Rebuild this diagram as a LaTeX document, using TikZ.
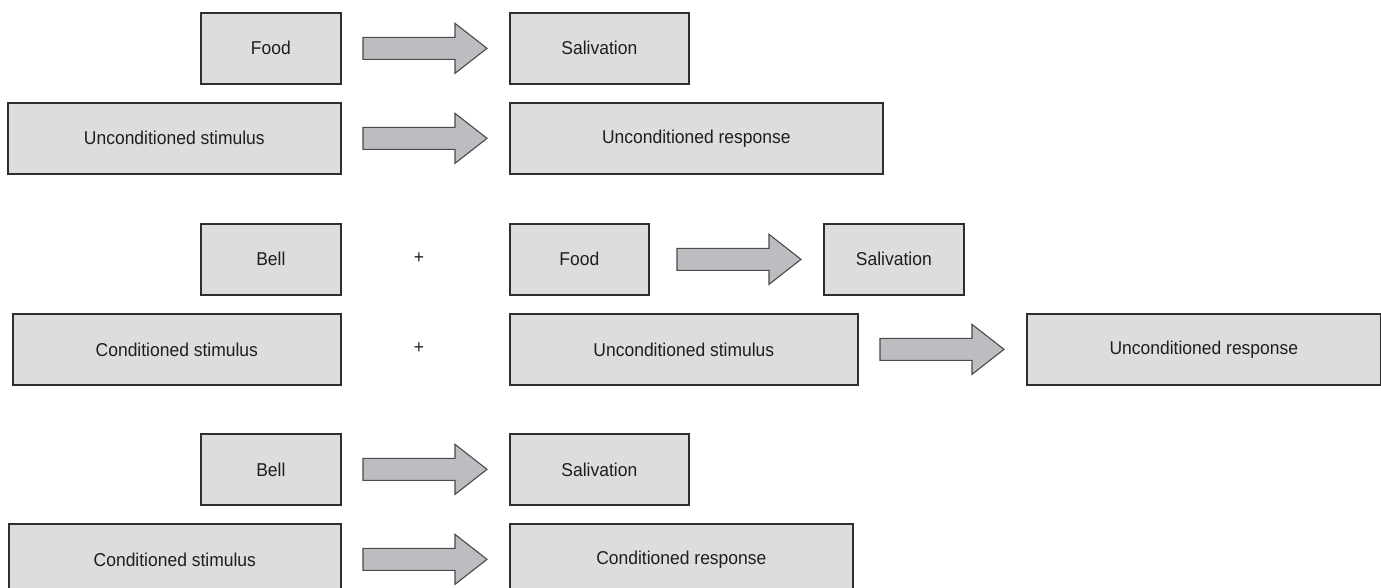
\documentclass[tikz,border=0pt]{standalone}
\usepackage{fontspec}
\setmainfont{Liberation Sans}
\newfontfamily\labelfont[FakeStretch=0.94]{Liberation Sans}
\usetikzlibrary{calc}

\definecolor{boxfill}{HTML}{DCDDDF}
\definecolor{boxline}{HTML}{2E2E2E}
\definecolor{arrowfill}{HTML}{BCBDC0}
\definecolor{arrowline}{HTML}{4A4A4A}
\definecolor{inktext}{HTML}{1E1E1E}

\tikzset{
  box/.style={draw=boxline, fill=boxfill, line width=1.7pt, anchor=north west,
    minimum height=71pt, inner sep=0pt, text=inktext,
    font=\labelfont\fontsize{18.6pt}{21pt}\selectfont},
  fatarrow/.style={draw=arrowline, fill=arrowfill, line width=1.1pt, line join=miter},
  plussign/.style={text=inktext, font=\labelfont\fontsize{18.6pt}{21pt}\selectfont, inner sep=0pt}
}

% broad arrow ending 22 units before the west side of the target box
\newcommand\broadarrow[1]{%
  \draw[fatarrow] ($(#1.west)+(-146,-11)$) -- ++(92,0) -- ++(0,-14) -- ++(32,25)
    -- ++(-32,25) -- ++(0,-14) -- ++(-92,0) -- cycle;}

\begin{document}
\begin{tikzpicture}[x=1pt, y=-1pt]
  \useasboundingbox (0,0) rectangle (1381,588);
  \clip (0,0) rectangle (1381,588);

  % unconditioned reflex
  \node[box, minimum width=140pt] (food1) at (200,12) {Food};
  \node[box, minimum width=179pt] (sal1) at (509,12) {Salivation};
  \node[box, minimum width=333pt] (ucs1) at (7,102) {Unconditioned stimulus};
  \node[box, minimum width=373pt] (ucr1) at (509,102) {Unconditioned response};
  \broadarrow{sal1}
  \broadarrow{ucr1}

  % pairing
  \node[box, minimum width=140pt] (bell1) at (200,223) {Bell};
  \node[plussign] (plus1) at (419,258) {+};
  \node[box, minimum width=139pt] (food2) at (509,223) {Food};
  \node[box, minimum width=140pt] (sal2) at (823,223) {Salivation};
  \node[box, minimum width=328pt] (cs1) at (12,313) {Conditioned stimulus};
  \node[plussign] (plus2) at (419,348) {+};
  \node[box, minimum width=348pt] (ucs2) at (509,313) {Unconditioned stimulus};
  \node[box, minimum width=354pt] (ucr2) at (1026,313) {Unconditioned response};
  \broadarrow{sal2}
  \broadarrow{ucr2}

  % conditioned reflex
  \node[box, minimum width=140pt] (bell2) at (200,433) {Bell};
  \node[box, minimum width=179pt] (sal3) at (509,433) {Salivation};
  \node[box, minimum width=332pt] (cs2) at (8,523) {Conditioned stimulus};
  \node[box, minimum width=343pt] (cr) at (509,523) {Conditioned response};
  \broadarrow{sal3}
  \broadarrow{cr}
\end{tikzpicture}
\end{document}
